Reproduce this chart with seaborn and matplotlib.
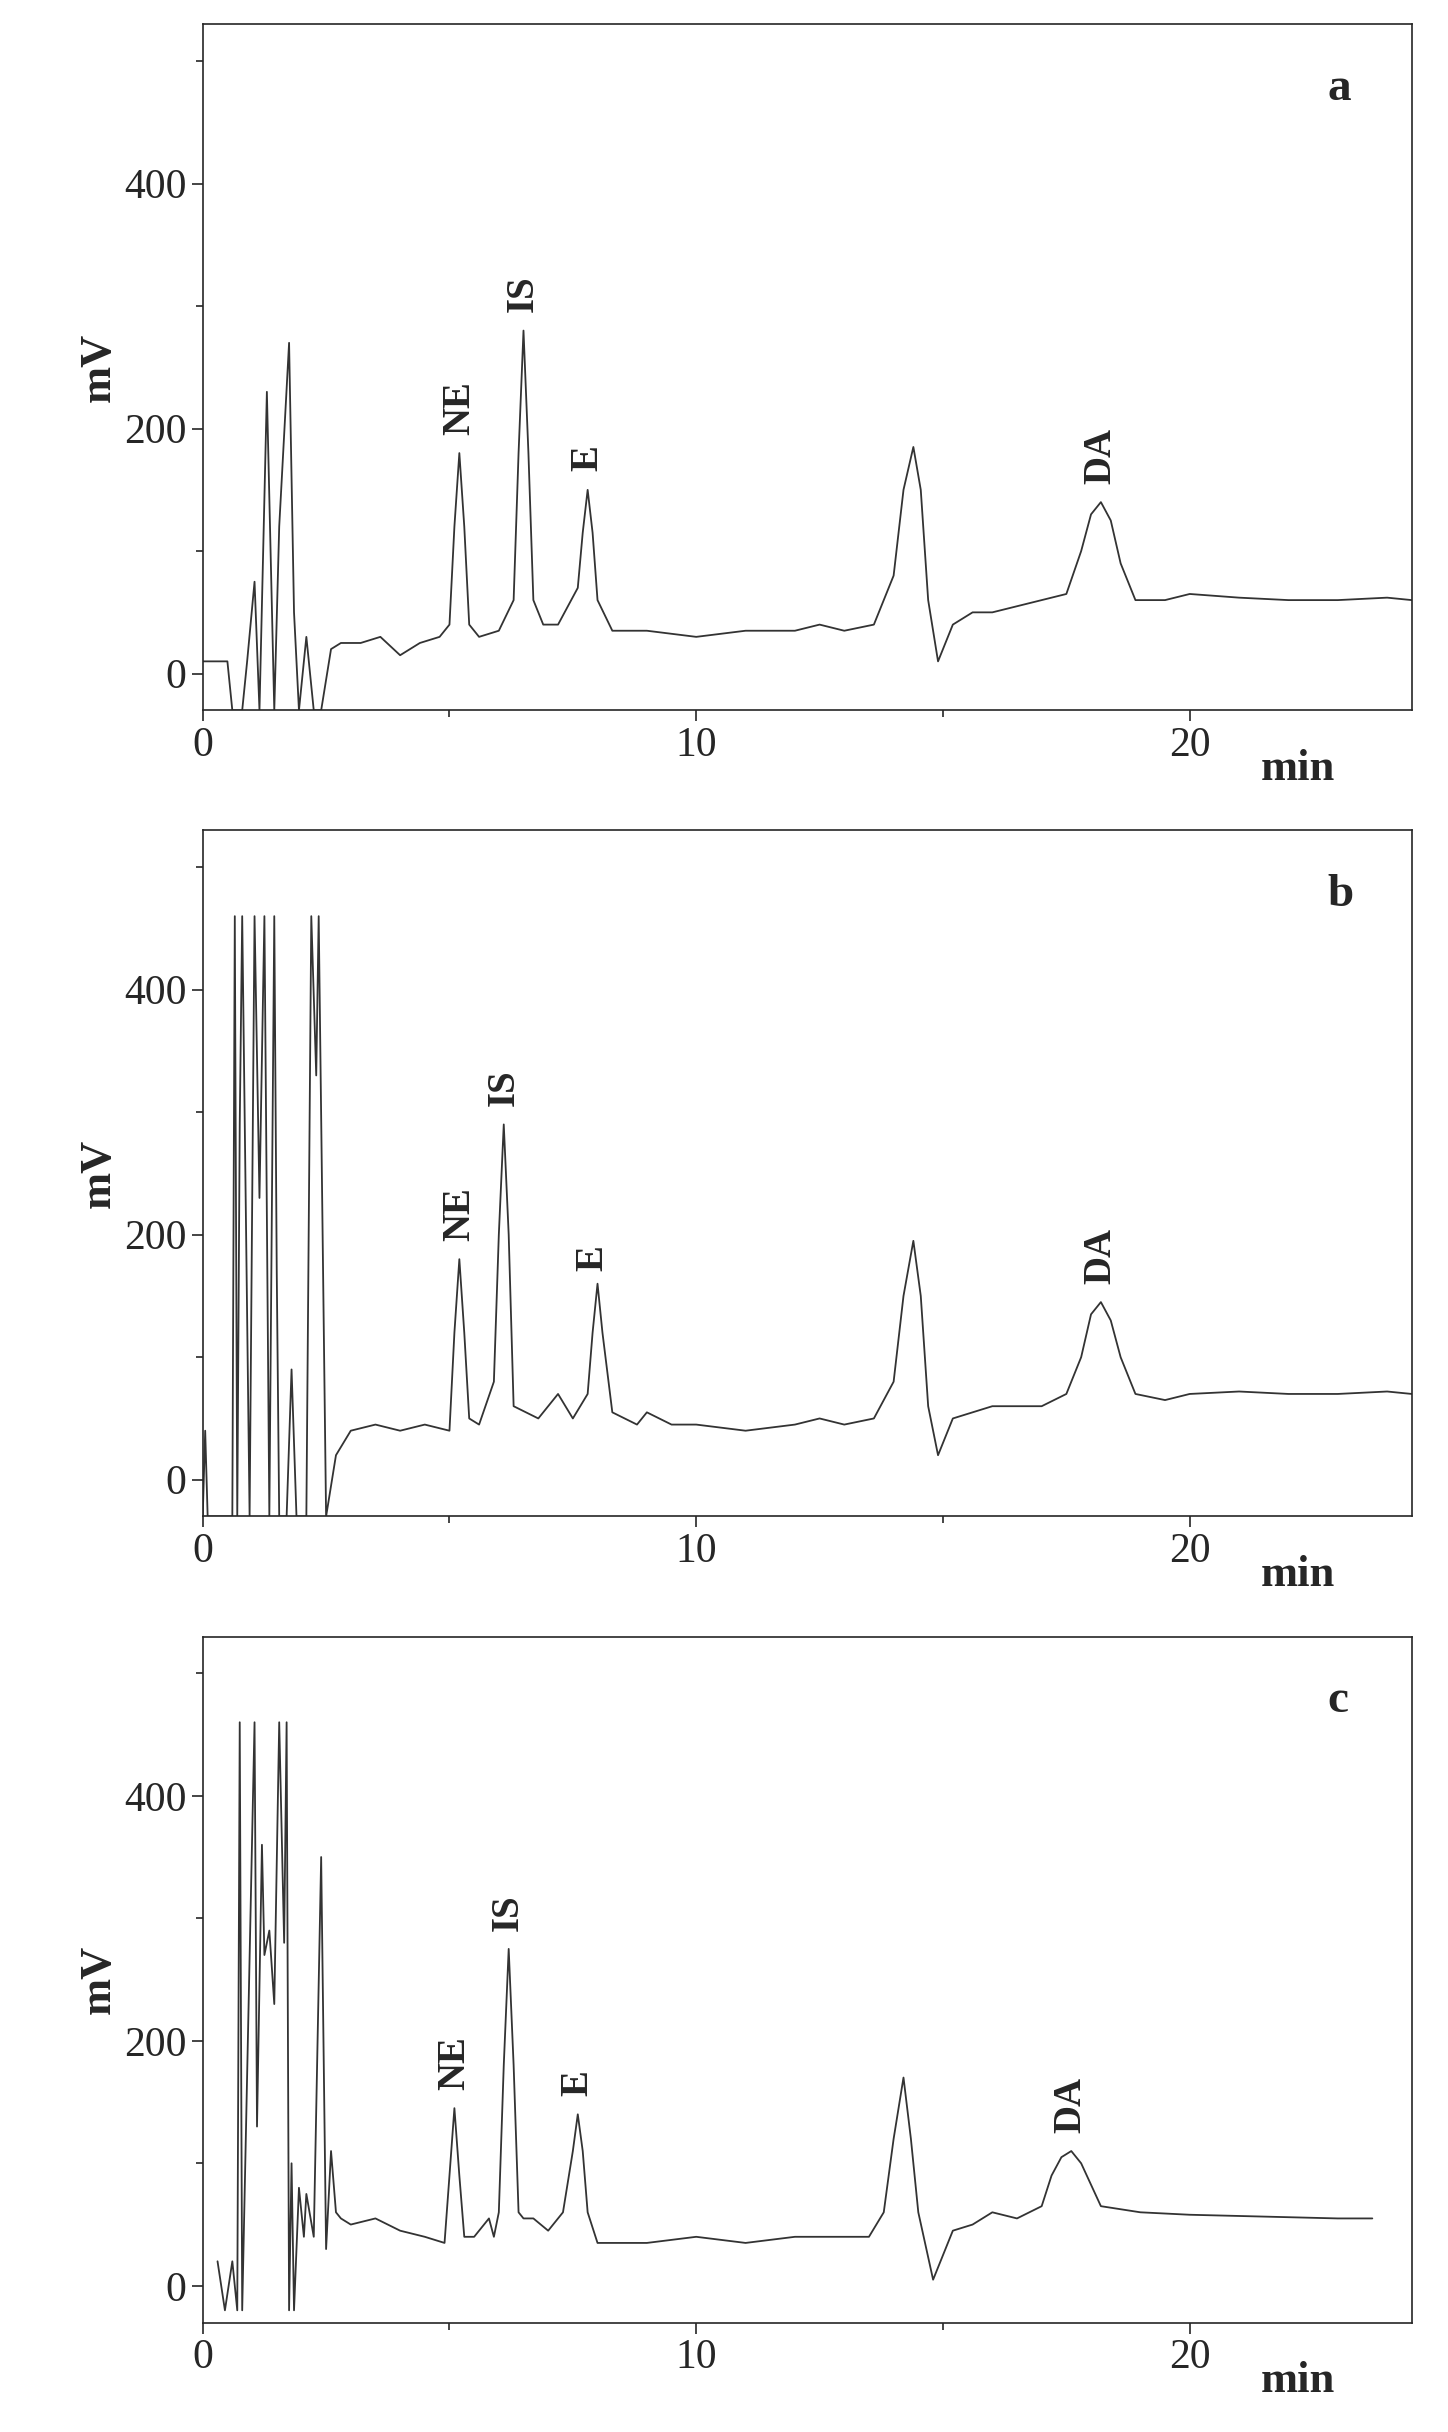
import numpy as np
import seaborn as sns
import pandas as pd
from matplotlib import pyplot as plt

sns.set_style("ticks")
plt.rcParams['font.family'] = ['Liberation Serif', 'DejaVu Serif']

# chromatogram traces (time in min, signal in mV)
t_a = [0, 0.5, 0.6, 0.8, 0.9, 1.05, 1.15, 1.3, 1.45, 1.55, 1.75, 1.85, 1.95, 2.1, 2.25, 2.4, 2.6, 2.8,
       3.2, 3.6, 4.0, 4.4, 4.8, 5.0, 5.1, 5.2, 5.3, 5.4, 5.6, 6.0, 6.3, 6.4, 6.5, 6.6, 6.7, 6.9, 7.2,
       7.6, 7.7, 7.8, 7.9, 8.0, 8.3, 9.0, 10.0, 11.0, 12.0, 12.5, 13.0, 13.6, 14.0, 14.2, 14.4, 14.55,
       14.7, 14.9, 15.2, 15.6, 16.0, 16.5, 17.0, 17.5, 17.8, 18.0, 18.2, 18.4, 18.6, 18.9, 19.5, 20.0,
       21.0, 22.0, 23.0, 24.0, 24.5]
y_a = [10, 10, -30, -30, 10, 75, -30, 230, -30, 120, 270, 50, -30, 30, -30, -30, 20, 25,
       25, 30, 15, 25, 30, 40, 120, 180, 120, 40, 30, 35, 60, 180, 280, 180, 60, 40, 40,
       70, 115, 150, 115, 60, 35, 35, 30, 35, 35, 40, 35, 40, 80, 150, 185, 150,
       60, 10, 40, 50, 50, 55, 60, 65, 100, 130, 140, 125, 90, 60, 60, 65,
       62, 60, 60, 62, 60]

t_b = [0, 0.05, 0.1, 0.15, 0.6, 0.65, 0.7, 0.75, 0.8, 0.95, 1.05, 1.15, 1.25, 1.35, 1.45, 1.5, 1.55,
       1.7, 1.8, 1.9, 2.1, 2.2, 2.3, 2.35, 2.5, 2.7, 3.0, 3.5, 4.0, 4.5, 5.0, 5.1, 5.2, 5.3, 5.4, 5.6,
       5.9, 6.0, 6.1, 6.2, 6.3, 6.8, 7.2, 7.5, 7.8, 7.9, 8.0, 8.1, 8.3, 8.8, 9.0, 9.5, 10.0, 11.0, 12.0,
       12.5, 13.0, 13.6, 14.0, 14.2, 14.4, 14.55, 14.7, 14.9, 15.2, 15.6, 16.0, 16.5, 17.0, 17.5, 17.8,
       18.0, 18.2, 18.4, 18.6, 18.9, 19.5, 20.0, 21.0, 22.0, 23.0, 24.0, 24.5]
y_b = [-30, 40, -30, -30, -30, 460, -30, 290, 460, -30, 460, 230, 460, -30, 460, 170, -30,
       -30, 90, -30, -30, 460, 330, 460, -30, 20, 40, 45, 40, 45, 40, 120, 180, 120, 50, 45,
       80, 200, 290, 200, 60, 50, 70, 50, 70, 120, 160, 120, 55, 45, 55, 45, 45, 40, 45,
       50, 45, 50, 80, 150, 195, 150, 60, 20, 50, 55, 60, 60, 60, 70, 100,
       135, 145, 130, 100, 70, 65, 70, 72, 70, 70, 72, 70]

t_c = [0.3, 0.45, 0.6, 0.7, 0.75, 0.8, 1.05, 1.1, 1.2, 1.25, 1.35, 1.45, 1.55, 1.65, 1.7, 1.75,
       1.8, 1.85, 1.95, 2.05, 2.1, 2.25, 2.4, 2.5, 2.6, 2.7, 2.8, 3.0, 3.5, 4.0, 4.5, 4.9, 5.0, 5.1,
       5.2, 5.3, 5.5, 5.8, 5.9, 6.0, 6.1, 6.2, 6.3, 6.4, 6.5, 6.7, 7.0, 7.3, 7.5, 7.6, 7.7, 7.8, 8.0,
       8.5, 9.0, 10.0, 11.0, 12.0, 12.5, 13.0, 13.5, 13.8, 14.0, 14.2, 14.35, 14.5, 14.8, 15.2, 15.6,
       16.0, 16.5, 17.0, 17.2, 17.4, 17.6, 17.8, 18.2, 19.0, 20.0, 21.0, 22.0, 23.0, 23.7]
y_c = [20, -20, 20, -20, 460, -20, 460, 130, 360, 270, 290, 230, 460, 280, 460, -20,
       100, -20, 80, 40, 75, 40, 350, 30, 110, 60, 55, 50, 55, 45, 40, 35, 90, 145,
       90, 40, 40, 55, 40, 60, 180, 275, 180, 60, 55, 55, 45, 60, 110, 140, 110, 60, 35,
       35, 35, 40, 35, 40, 40, 40, 40, 60, 120, 170, 120, 60, 5, 45, 50,
       60, 55, 65, 90, 105, 110, 100, 65, 60, 58, 57, 56, 55, 55]

panels = ["a", "b", "c"]
peak_labels = ["NE", "IS", "E", "DA"]
peak_pos = {
    "a": [(5.2, 190), (6.5, 290), (7.8, 160), (18.2, 150)],
    "b": [(5.2, 190), (6.1, 300), (7.9, 165), (18.2, 155)],
    "c": [(5.1, 155), (6.2, 285), (7.6, 150), (17.6, 120)],
}
traces = {"a": (t_a, y_a), "b": (t_b, y_b), "c": (t_c, y_c)}

fig, axes = plt.subplots(3, 1, figsize=(14.48, 24.32), dpi=100)
fig.subplots_adjust(left=0.14, right=0.975, top=0.99, bottom=0.045, hspace=0.175)

for ax, p in zip(axes, panels):
    t, y = traces[p]
    df = pd.DataFrame({"t": t, "y": y})
    sns.lineplot(data=df, x="t", y="y", ax=ax, color="#333333", linewidth=1.3, sort=False)
    ax.set_xlim(0, 24.5)
    ax.set_ylim(-30, 530)
    ax.set_xticks([0, 10, 20])
    ax.set_xticks([5, 15], minor=True)
    ax.set_yticks([0, 200, 400])
    ax.set_yticks([100, 300, 500], minor=True)
    ax.tick_params(labelsize=30, length=8, width=1.2, direction="out")
    ax.tick_params(which="minor", length=5, width=1.2)
    for s in ax.spines.values():
        s.set_visible(True)
        s.set_linewidth(1.2)
    ax.set_xlabel("")
    ax.set_ylabel("mV", fontsize=32, fontweight="bold")
    ax.text(22.2, -0.085, "min", transform=ax.get_xaxis_transform(), ha="center", va="center",
            fontsize=32, fontweight="bold")
    ax.text(0.93, 0.89, p, transform=ax.transAxes, fontsize=34, fontweight="bold")
    for lab, (x, yy) in zip(peak_labels, peak_pos[p]):
        ax.text(x, yy + 5, lab, rotation=90, ha="center", va="bottom",
                fontsize=28, fontweight="bold")

plt.savefig("out.png", dpi=100)
